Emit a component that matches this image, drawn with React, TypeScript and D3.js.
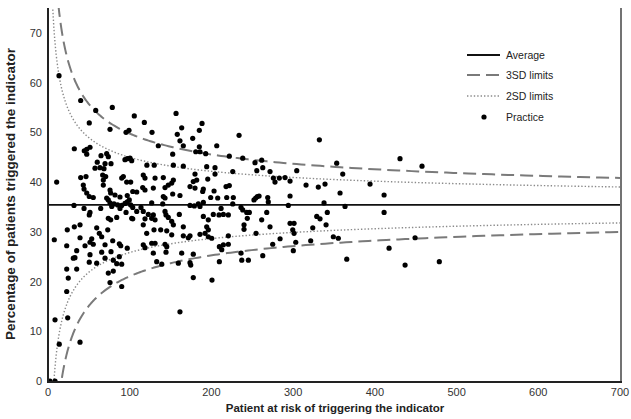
import React from 'react';
import * as d3 from 'd3';

const practiceN = [
  13.5, 40.0, 58.4, 78.7, 105.6, 50.5, 75.9, 95.5, 99.1, 32.2, 44.4, 47.4, 51.4, 47.4, 64.9, 71.8, 73.8, 60.3, 69.8, 77.1, 94.2, 97.0, 100.4, 102.4,
  117.9, 127.3, 156.7, 163.6, 158.2, 188.5, 185.2, 177.1, 161.5, 165.6, 135.0, 185.2, 152.6, 180.8, 186.0, 193.0, 206.5, 221.9, 233.8,
  332.1, 238.3, 253.3, 261.5, 353.3, 430.8, 457.7,
  57.5, 63.6, 68.5, 10.6, 40.0, 46.5, 66.9, 70.6, 67.7, 90.2, 92.2, 96.3, 101.2, 43.2, 44.1, 47.4, 50.5, 55.4, 67.7, 75.9, 76.7, 71.8, 82.0, 88.1, 97.0, 103.7, 108.6,
  31.8, 44.1, 50.5, 51.4, 64.5, 73.8, 75.9, 78.0, 80.8, 85.3, 90.2, 94.2, 97.0, 99.5, 101.2, 103.7, 73.8, 76.7, 84.1, 88.1, 95.5, 102.4, 103.7, 108.6,
  39.2, 32.2, 59.6, 62.8, 65.7, 73.1, 23.6, 39.2, 7.7, 53.5, 51.4, 55.4, 45.3, 22.9, 69.8, 79.2, 87.3, 89.0, 97.0, 35.1, 51.4, 65.7, 77.1, 31.0, 33.0,
  50.5, 59.6, 69.8, 79.9, 84.1, 90.2, 87.3, 22.9, 35.1,
  24.8, 22.9, 73.8, 79.9, 75.9, 90.2, 8.6, 24.1, 13.8, 39.2, 2.4, 8.6,
  177.8, 200.7, 161.5,
  121.0, 130.0, 153.4, 165.6, 194.2, 204.4, 116.6, 118.7, 131.0, 141.1, 153.4, 151.4, 147.2, 179.9, 177.8, 182.0, 195.5, 204.4, 226.1, 217.9, 221.9,
  115.9, 118.7, 128.9, 143.2, 173.8, 179.9, 190.1, 189.3, 203.2, 141.1, 143.2, 152.6, 161.5, 199.1, 207.7, 218.7, 226.8, 126.9, 140.4, 173.8, 179.1,
  184.0, 186.0, 190.1, 211.8, 226.1, 113.8, 116.6, 122.8, 128.9, 126.9, 131.0, 143.2, 144.4, 147.2, 151.4, 153.4, 160.7, 165.6, 190.1, 202.3, 209.3,
  214.6, 220.7, 196.2, 194.2, 196.2, 118.7, 116.6, 120.8, 129.7, 137.9, 145.3, 151.4, 165.6, 171.7, 173.8, 186.0, 192.2, 200.4, 196.2, 220.7, 116.6,
  118.7, 126.9, 131.0, 143.2, 145.3, 128.9, 144.4, 163.6, 177.8, 209.7, 214.6, 220.7, 212.6, 133.0, 139.2, 159.5, 173.8, 174.7, 209.7,
  262.8, 255.5, 271.7, 304.4, 275.8, 277.8, 283.1, 290.1, 296.2, 315.8, 330.8, 339.0, 252.1, 254.2, 256.2, 258.3, 268.9, 269.6, 296.2, 294.1, 236.2,
  238.3, 243.2, 246.4, 243.9, 267.7, 261.5, 239.9, 239.9, 271.7, 296.2, 301.1, 299.5, 301.1, 254.6, 328.9, 332.9, 341.8, 324.0, 340.3, 349.2, 355.3,
  284.0, 275.0, 303.2, 321.5, 300.2, 236.2, 237.1, 245.2, 262.8, 337.8,
  360.7, 394.1, 357.4, 411.3, 363.5, 411.3, 449.2, 417.4, 365.6, 437.0, 478.9,
];

const practicePct = [
  61.4, 56.4, 54.4, 55.0, 53.3, 51.9, 50.6, 50.0, 50.4, 46.7, 46.3, 46.6, 47.0, 45.6, 45.3, 45.7, 45.1, 44.0, 43.7, 43.7, 44.5, 44.7, 44.8, 44.3,
  52.0, 50.0, 53.8, 50.9, 49.6, 51.8, 50.4, 48.8, 48.3, 47.3, 47.3, 47.1, 45.6, 46.1, 46.1, 45.7, 47.3, 45.2, 49.4,
  48.5, 44.8, 43.9, 44.4, 43.8, 44.7, 43.2,
  42.8, 42.9, 42.7, 40.0, 40.9, 41.1, 41.4, 41.1, 40.4, 40.8, 41.1, 40.0, 40.0, 39.4, 38.6, 37.8, 37.1, 36.9, 39.4, 38.4, 37.8, 36.8, 37.4, 37.0, 37.3, 38.1, 38.0,
  35.3, 34.7, 33.4, 33.9, 34.7, 36.4, 35.8, 35.1, 35.6, 35.4, 35.3, 35.7, 36.0, 36.4, 35.4, 34.9, 32.7, 32.4, 32.9, 34.7, 33.9, 32.7, 32.6, 34.1,
  31.4, 31.0, 30.8, 29.7, 29.0, 30.4, 30.4, 28.8, 28.4, 28.6, 27.9, 27.5, 27.2, 27.2, 27.4, 28.2, 27.6, 27.2, 26.7, 26.2, 25.4, 25.9, 26.0, 24.7, 24.8,
  23.9, 23.7, 24.7, 24.3, 23.6, 23.5, 25.0, 22.5, 22.5,
  20.7, 18.0, 21.7, 22.1, 19.8, 19.0, 12.3, 12.7, 7.4, 7.8, 0, 0,
  20.8, 20.3, 13.9,
  43.4, 43.4, 43.4, 43.2, 43.1, 42.9, 41.4, 40.8, 40.8, 40.9, 40.4, 39.8, 39.4, 41.6, 40.1, 40.4, 40.6, 41.6, 42.1, 39.1, 39.3,
  38.9, 38.4, 38.8, 38.9, 39.1, 38.8, 38.6, 38.1, 38.2, 37.1, 36.8, 37.6, 37.3, 36.9, 36.8, 36.9, 36.9, 35.8, 35.6, 35.3, 35.2,
  35.6, 35.1, 35.9, 34.7, 35.6, 34.9, 34.1, 33.5, 33.4, 32.7, 32.4, 34.1, 33.4, 32.9, 32.1, 31.4, 33.5, 31.0, 33.1, 33.5, 33.4,
  33.5, 33.4, 32.4, 31.0, 30.4, 32.6, 31.4, 29.7, 30.4, 30.4, 30.2, 29.4, 29.2, 28.8, 29.2, 29.5, 29.7, 28.7, 29.0, 29.2, 27.4,
  26.8, 27.7, 27.7, 27.5, 27.0, 25.7, 25.9, 25.7, 25.5, 27.0, 27.4, 27.5, 26.4, 24.0, 23.5, 23.7, 23.8, 23.3, 24.0,
  42.9, 42.3, 42.1, 42.3, 40.8, 40.0, 40.8, 40.9, 40.2, 39.4, 39.0, 39.6, 36.4, 36.8, 37.1, 37.2, 36.9, 36.0, 37.2, 35.3, 34.9,
  34.4, 33.9, 33.9, 32.7, 33.9, 32.4, 31.4, 30.5, 31.0, 31.7, 31.7, 30.4, 29.7, 29.7, 33.1, 32.6, 33.9, 30.8, 31.4, 29.0, 28.7,
  28.6, 27.5, 27.9, 28.2, 26.2, 25.7, 24.3, 24.3, 25.2, 35.8,
  41.6, 39.6, 37.8, 37.4, 35.1, 33.9, 28.8, 26.7, 24.5, 23.3, 24.0,
];

const xTicks = [0, 100, 200, 300, 400, 500, 600, 700];
const yTicks = [0, 10, 20, 30, 40, 50, 60, 70];
const averagePct = 35.4;
const legendLabels = ['Average', '3SD limits', '2SD limits', 'Practice'];
const xTitle = 'Patient at risk of triggering the indicator';
const yTitle = 'Percentage of patients triggered the indicator';

const FONT = '"Liberation Sans", Arial, sans-serif';

export default function App() {
  const W = 631;
  const H = 419;
  const x = d3.scaleLinear().domain([0, 700]).range([48, 620]);
  const y = d3.scaleLinear().domain([0, 75]).range([381, 8]);
  const p = averagePct / 100;

  const ns: number[] = [];
  for (let i = 0; i <= 400; i++) ns.push(Math.exp(Math.log(0.5) + (Math.log(700) - Math.log(0.5)) * (i / 400)));

  const limit = (z: number) => (n: number) => 100 * (p + z * Math.sqrt((p * (1 - p)) / n));
  const line = (f: (n: number) => number) =>
    d3.line<number>().x((n) => x(n)).y((n) => y(Math.max(-5, Math.min(90, f(n)))))(ns) || '';

  const dashed = { stroke: '#7a7a7a', strokeWidth: 2, strokeDasharray: '13 6', fill: 'none' };
  const dotted = { stroke: '#8a8a8a', strokeWidth: 1.4, strokeDasharray: '1.4 2', fill: 'none' };

  const data = practiceN.map((n, i) => ({ n, v: practicePct[i] }));

  const legY = [55, 75, 96, 117];

  return (
    <svg width={W} height={H} style={{ position: 'absolute', left: 0, top: 0, background: '#fff' }} fontFamily={FONT}>
      <defs>
        <clipPath id="plotClip">
          <rect x={48} y={8} width={572} height={373} />
        </clipPath>
      </defs>
      <rect x={0} y={0} width={W} height={H} fill="#fff" />
      <g clipPath="url(#plotClip)">
        <path d={line(limit(3))} {...dashed} />
        <path d={line(limit(-3))} {...dashed} />
        <path d={line(limit(2))} {...dotted} />
        <path d={line(limit(-2))} {...dotted} />
        <line x1={x(0)} x2={x(700)} y1={y(averagePct)} y2={y(averagePct)} stroke="#111" strokeWidth={1.8} />
        {data.map((d, i) => (
          <circle key={i} cx={x(d.n)} cy={y(d.v)} r={2.6} fill="#000" />
        ))}
      </g>
      <line x1={621} x2={621} y1={8} y2={382} stroke="#444" strokeWidth={1.5} />
      <line x1={48} x2={48} y1={8} y2={382} stroke="#222" strokeWidth={2} />
      <line x1={47} x2={622} y1={382} y2={382} stroke="#222" strokeWidth={2} />
      {yTicks.map((t) => (
        <text key={t} x={42} y={y(t) + 4} textAnchor="end" fontSize={11} fill="#333">
          {t}
        </text>
      ))}
      {xTicks.map((t) => (
        <text key={t} x={x(t)} y={396} textAnchor="middle" fontSize={11} fill="#333">
          {t}
        </text>
      ))}
      <text x={335} y={412} textAnchor="middle" fontSize={11.5} fontWeight="bold" fill="#222">
        {xTitle}
      </text>
      <text transform={`translate(15,194) rotate(-90)`} textAnchor="middle" fontSize={13.5} fontWeight="bold" fill="#222">
        {yTitle}
      </text>
      <line x1={467} x2={500} y1={legY[0]} y2={legY[0]} stroke="#111" strokeWidth={1.8} />
      <line x1={467} x2={500} y1={legY[1]} y2={legY[1]} {...dashed} />
      <line x1={467} x2={500} y1={legY[2]} y2={legY[2]} {...dotted} />
      <circle cx={484} cy={legY[3]} r={2.6} fill="#000" />
      {legendLabels.map((l, i) => (
        <text key={l} x={506} y={legY[i] + 4} fontSize={10.5} fill="#222">
          {l}
        </text>
      ))}
    </svg>
  );
}
